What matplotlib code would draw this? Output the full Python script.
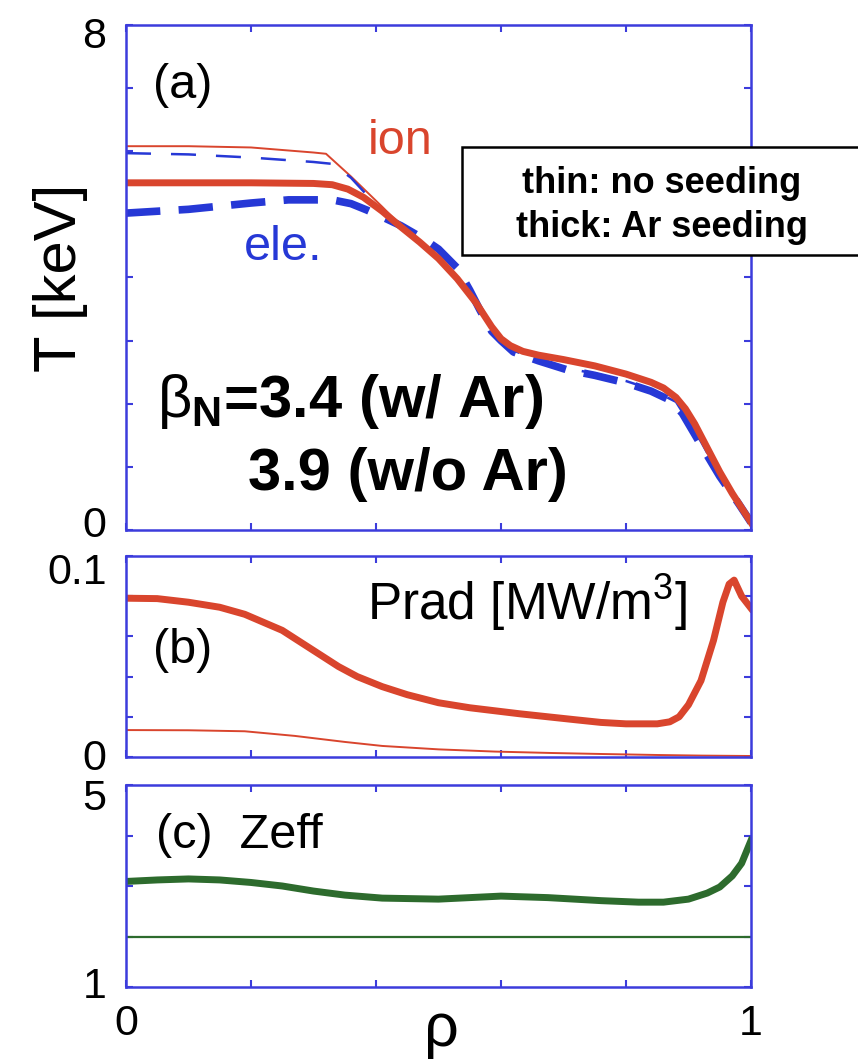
import matplotlib
matplotlib.use("Agg")
import matplotlib.pyplot as plt
from matplotlib.patches import Rectangle
from matplotlib.ticker import MultipleLocator
from matplotlib.transforms import ScaledTranslation

plt.rcParams['font.family'] = ['Liberation Sans', 'DejaVu Sans']
plt.rcParams['mathtext.fontset'] = 'custom'
plt.rcParams['mathtext.rm'] = 'Liberation Sans'
plt.rcParams['mathtext.it'] = 'Liberation Sans'
plt.rcParams['mathtext.bf'] = 'Liberation Sans:bold'

# ---- panel (a): temperature profiles [keV]
rho_ti_ar = [0, 0.1, 0.2, 0.3, 0.33, 0.355, 0.38, 0.41, 0.44, 0.47, 0.50, 0.53, 0.56, 0.585,
             0.60, 0.615, 0.635, 0.66, 0.70, 0.75, 0.80, 0.84, 0.86, 0.88, 0.895, 0.91, 0.93,
             0.95, 0.97, 0.985, 1.0]
ti_ar = [5.50, 5.50, 5.50, 5.49, 5.47, 5.40, 5.27, 5.05, 4.80, 4.56, 4.30, 3.98, 3.60, 3.22,
         3.03, 2.92, 2.83, 2.77, 2.70, 2.60, 2.47, 2.34, 2.25, 2.10, 1.92, 1.68, 1.30,
         0.92, 0.58, 0.35, 0.12]

rho_ti_no = [0, 0.1, 0.2, 0.3, 0.32, 0.36, 0.41, 0.44, 0.47, 0.50, 0.53, 0.56, 0.585, 0.60,
             0.615, 0.635, 0.66, 0.70, 0.75, 0.80, 0.84, 0.86, 0.88, 0.895, 0.91, 0.93, 0.95,
             0.97, 0.985, 1.0]
ti_no = [6.08, 6.08, 6.06, 5.98, 5.96, 5.60, 5.12, 4.82, 4.58, 4.32, 4.00, 3.62, 3.24, 3.05,
         2.94, 2.85, 2.79, 2.72, 2.62, 2.49, 2.36, 2.27, 2.12, 1.94, 1.70, 1.32, 0.94,
         0.60, 0.36, 0.13]

rho_te_ar = [0, 0.1, 0.2, 0.26, 0.33, 0.36, 0.385, 0.41, 0.44, 0.475, 0.50, 0.53, 0.55, 0.566,
             0.585, 0.60, 0.62, 0.66, 0.705, 0.75, 0.80, 0.84, 0.87, 0.89, 0.918, 0.95, 0.98, 1.0]
te_ar = [5.02, 5.08, 5.18, 5.23, 5.23, 5.17, 5.07, 4.96, 4.82, 4.62, 4.45, 4.15, 3.80, 3.49,
         3.15, 3.00, 2.82, 2.68, 2.54, 2.45, 2.33, 2.20, 2.06, 1.85, 1.38, 0.85, 0.42, 0.12]

rho_te_no = [0, 0.1, 0.2, 0.3, 0.33, 0.36, 0.40, 0.44, 0.48, 0.52, 0.56, 0.60, 0.62, 0.66,
             0.70, 0.75, 0.80, 0.84, 0.88, 0.92, 0.95, 0.98, 1.0]
te_no = [5.97, 5.95, 5.90, 5.83, 5.80, 5.58, 5.15, 4.80, 4.50, 4.12, 3.55, 3.02, 2.84, 2.70,
         2.57, 2.48, 2.36, 2.23, 2.03, 1.40, 0.86, 0.42, 0.12]

# ---- panel (b): radiated power density [MW/m3]
rho_prad_ar = [0, 0.05, 0.1, 0.15, 0.19, 0.22, 0.25, 0.28, 0.31, 0.34, 0.37, 0.41, 0.45, 0.5,
               0.55, 0.59, 0.63, 0.675, 0.72, 0.76, 0.80, 0.85, 0.87, 0.885, 0.90, 0.92, 0.94,
               0.955, 0.965, 0.973, 0.985, 1.0]
prad_ar = [0.079, 0.0788, 0.077, 0.0745, 0.071, 0.067, 0.063, 0.057, 0.051, 0.045, 0.040,
           0.035, 0.031, 0.027, 0.0245, 0.023, 0.0215, 0.020, 0.0185, 0.0172, 0.0165, 0.0165,
           0.0175, 0.020, 0.026, 0.038, 0.058, 0.077, 0.086, 0.088, 0.080, 0.074]

rho_prad_no = [0, 0.1, 0.19, 0.27, 0.35, 0.41, 0.5, 0.59, 0.68, 0.76, 0.85, 0.92, 1.0]
prad_no = [0.0134, 0.0133, 0.0128, 0.0105, 0.0075, 0.0055, 0.0038, 0.0027, 0.0020, 0.0015,
           0.0010, 0.0007, 0.0005]

# ---- panel (c): Zeff
rho_zeff_ar = [0, 0.05, 0.1, 0.15, 0.2, 0.25, 0.3, 0.35, 0.41, 0.5, 0.55, 0.6, 0.675, 0.76,
               0.82, 0.86, 0.9, 0.93, 0.95, 0.97, 0.985, 1.0]
zeff_ar = [3.09, 3.12, 3.14, 3.12, 3.07, 3.00, 2.90, 2.82, 2.76, 2.74, 2.77, 2.80, 2.77, 2.71,
           2.68, 2.68, 2.74, 2.86, 2.98, 3.20, 3.45, 3.90]
rho_zeff_no = [0, 1.0]
zeff_no = [2.0, 2.0]

RED = '#d9452d'
BLUE = '#2638d6'
SPINE = '#3c3cdc'
GREEN = '#2d6b2d'

W, H = 858, 1061
fig = plt.figure(figsize=(W / 100, H / 100), dpi=100)


def box(x0, y0, x1, y1):
    # pixel box -> figure fraction
    return [x0 / W, 1 - y1 / H, (x1 - x0) / W, (y1 - y0) / H]


def style(ax, ylim, ymajor, ylabels, dy_top, dy_bot):
    ax.set_xlim(0, 1)
    ax.set_ylim(*ylim)
    for s in ax.spines.values():
        s.set_color(SPINE)
        s.set_linewidth(1.8)
    ax.xaxis.set_major_locator(MultipleLocator(0.2))
    ax.yaxis.set_major_locator(MultipleLocator(ymajor))
    ax.tick_params(direction='in', top=True, right=True, length=5, width=1.5,
                   color=SPINE, labelsize=31, pad=14)
    ax.set_xticklabels([])
    ticks = ax.get_yticks()
    ax.set_yticks(ticks)
    ax.set_yticklabels([ylabels.get(round(v, 3), '') for v in ticks])
    ax.set_ylim(*ylim)
    # end labels sit a little inside the frame, as in the original
    for v, lab in zip(ticks, ax.get_yticklabels()):
        if abs(v - ylim[1]) < 1e-9:
            off = -dy_top
        elif abs(v - ylim[0]) < 1e-9:
            off = dy_bot
        else:
            continue
        lab.set_transform(lab.get_transform() + ScaledTranslation(0, off / 100, fig.dpi_scale_trans))


ax_a = fig.add_axes(box(126, 25, 751, 530))
ax_b = fig.add_axes(box(126, 556, 751, 757))
ax_c = fig.add_axes(box(126, 785, 751, 987))

# (a)
ax_a.plot(rho_ti_no, ti_no, color=RED, lw=1.4)
ax_a.plot(rho_te_no, te_no, color=BLUE, lw=1.8, dashes=(10, 8))
ax_a.plot(rho_te_ar, te_ar, color=BLUE, lw=5.5, dashes=(4.5, 2.4))
ax_a.plot(rho_ti_ar, ti_ar, color=RED, lw=5)
style(ax_a, (0, 8), 1, {0: '0', 8: '8'}, 8, 8)
ax_a.text(0.091, 7.04, '(a)', fontsize=35, ha='center', va='center')
ax_a.text(0.438, 6.15, 'ion', fontsize=35, color=RED, ha='center', va='center')
ax_a.text(0.251, 4.47, 'ele.', fontsize=35, color=BLUE, ha='center', va='center')
ax_a.text(0.05, 1.79, r'$\mathrm{\beta}_{\mathbf{N}}$=3.4 (w/ Ar)', fontsize=43,
          fontweight='bold', ha='left', va='baseline')
ax_a.text(0.195, 0.63, '3.9 (w/o Ar)', fontsize=43, fontweight='bold',
          ha='left', va='baseline')
fig.text(60 / W, 1 - 278 / H, 'T [keV]', fontsize=43, rotation=90, ha='center', va='center')

# note box (runs off the right edge in the original)
fig.patches.append(Rectangle((462 / W, 1 - 255 / H), 420 / W, 108 / H, transform=fig.transFigure,
                             facecolor='white', edgecolor='black', lw=1.8, zorder=5))
fig.text(662 / W, 1 - 193 / H, 'thin: no seeding', fontsize=26, fontweight='bold',
         ha='center', va='baseline', zorder=6)
fig.text(662 / W, 1 - 237 / H, 'thick: Ar seeding', fontsize=26, fontweight='bold',
         ha='center', va='baseline', zorder=6)

# (b)
ax_b.plot(rho_prad_no, prad_no, color=RED, lw=1.4)
ax_b.plot(rho_prad_ar, prad_ar, color=RED, lw=5)
style(ax_b, (0, 0.1), 0.02, {0: '0', 0.1: '0.1'}, 12, 3)
ax_b.text(0.09, 0.053, '(b)', fontsize=35, ha='center', va='center')
ax_b.text(0.386, 0.068, r'Prad [MW/m$^{3}$]', fontsize=37, ha='left', va='baseline')

# (c)
ax_c.plot(rho_zeff_no, zeff_no, color=GREEN, lw=1.6)
ax_c.plot(rho_zeff_ar, zeff_ar, color=GREEN, lw=5)
style(ax_c, (1, 5), 1, {1: '1', 5: '5'}, 10, 5)
ax_c.set_xticks([0, 0.2, 0.4, 0.6, 0.8, 1.0])
ax_c.set_xticklabels(['0', '', '', '', '', '1'])
ax_c.tick_params(axis='x', pad=12)
ax_c.text(0.048, 4.0, '(c)  Zeff', fontsize=35, ha='left', va='center')
fig.text(441 / W, 1 - 1046 / H, 'ρ', fontsize=44, ha='center', va='baseline')

fig.savefig('out.png', dpi=100)
